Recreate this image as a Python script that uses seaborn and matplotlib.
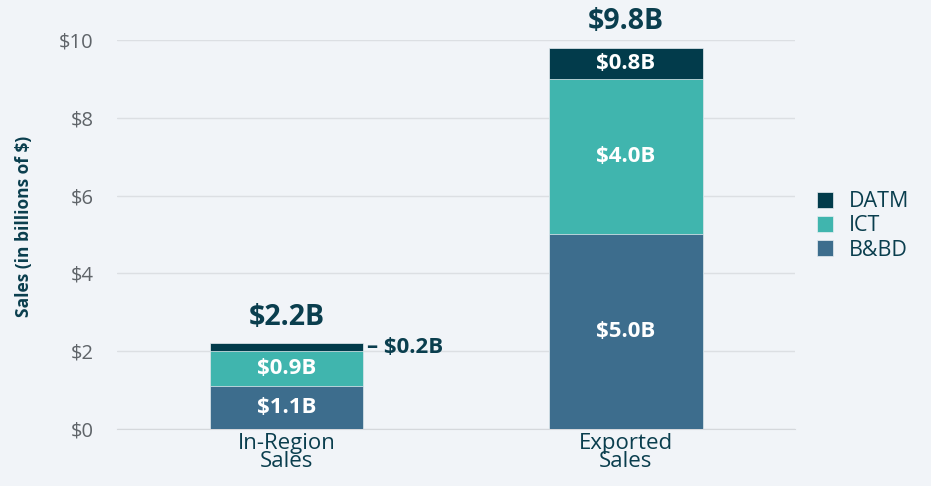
import matplotlib
matplotlib.use("Agg")
import matplotlib.pyplot as plt
import seaborn as sns
import pandas as pd

# data
categories = ["In-Region\nSales", "Exported\nSales"]
bbd = [1.1, 5.0]
ict = [0.9, 4.0]
datm = [0.2, 0.8]
yticks = [0, 2, 4, 6, 8, 10]

c_datm = "#023b4b"
c_ict = "#40b5ae"
c_bbd = "#3d6d8d"
bg = "#f1f4f8"
dark = "#0a3e4e"

df = pd.DataFrame({"category": categories, "B&BD": bbd, "ICT": ict, "DATM": datm})
df["ict_top"] = df["B&BD"] + df["ICT"]
df["total"] = df["ict_top"] + df["DATM"]

sns.set_style("white")
plt.rcParams["font.family"] = ["Open Sans", "DejaVu Sans"]

fig = plt.figure(figsize=(9.31, 4.86), dpi=100, facecolor=bg)
ax = fig.add_axes([0.1257, 0.1173, 0.7283, 0.8004])
ax.set_facecolor(bg)

# overlapping cumulative bars give the stacked look
for col, colr, lab in [("total", c_datm, "DATM"), ("ict_top", c_ict, "ICT"), ("B&BD", c_bbd, "B&BD")]:
    sns.barplot(data=df, x="category", y=col, color=colr, saturation=1, width=0.454,
                label=lab, edgecolor="#e8eef2", linewidth=0.5, ax=ax, zorder=3)

ax.set_ylim(0, 10)
ax.set_xlim(-0.5, 1.5)
ax.set_yticks(yticks)
ax.set_yticklabels([f"${t}" for t in yticks], color="#5f6469", fontsize=14.5)
ax.tick_params(axis="y", length=0, pad=17)
ax.tick_params(axis="x", length=0, pad=3, labelsize=16, labelcolor=dark)
for lbl in ax.get_xticklabels():
    lbl.set_linespacing(0.78)
ax.set_xticks([-0.5, 0.5, 1.5], minor=True)
ax.tick_params(axis="x", which="minor", length=4, color="#d5d8dc", width=1)
ax.grid(axis="y", color="#dcdfe3", linewidth=1, zorder=0)
ax.set_axisbelow(True)
for s in ["top", "right", "left"]:
    ax.spines[s].set_visible(False)
ax.spines["bottom"].set_color("#d5d8dc")
ax.set_xlabel("")
ax.set_ylabel("Sales (in billions of $)", fontsize=12.5, fontweight="bold", color=dark, labelpad=4)
ax.yaxis.set_label_coords(-0.124, 0.52)

# segment labels
half = 0.454 / 2
for i in range(len(categories)):
    bottoms = [0, bbd[i], bbd[i] + ict[i]]
    for b, v in zip(bottoms, [bbd[i], ict[i], datm[i]]):
        if v >= 0.5:
            ax.text(i, b + v / 2, f"${v:.1f}B", ha="center", va="center", color="white",
                    fontsize=16, fontweight="bold", zorder=5)
        else:
            ax.text(i + half + 0.01, b + v / 2, f"\u2013 ${v:.1f}B", ha="left", va="center",
                    color=dark, fontsize=16, fontweight="bold", zorder=5)
    tot = bbd[i] + ict[i] + datm[i]
    ax.text(i, tot + 0.3, f"${tot:.1f}B", ha="center", va="bottom", color=dark,
            fontsize=20.5, fontweight="bold", clip_on=False, zorder=5)

leg = ax.legend(loc="center left", bbox_to_anchor=(1.02, 0.522), frameon=False,
                fontsize=15.5, handlelength=0.75, handleheight=0.75, labelspacing=0.15,
                handletextpad=0.7, borderaxespad=0)
for t in leg.get_texts():
    t.set_color(dark)

fig.savefig("out.png", dpi=100, facecolor=bg)
